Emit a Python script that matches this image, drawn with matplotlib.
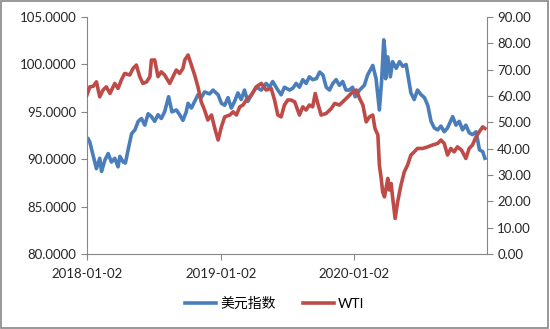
import pandas as pd
import matplotlib
matplotlib.use('Agg')
import matplotlib.pyplot as plt
import matplotlib.dates as mdates
import matplotlib.ticker as mticker
from matplotlib.patches import Rectangle

plt.rcParams['font.family'] = ['Lato', 'Noto Sans CJK SC', 'DejaVu Sans']

# 美元指数 (left axis)
usd_dates = ['2018-01-02', '2018-01-05', '2018-01-10', '2018-01-19', '2018-01-28', '2018-02-06',
             '2018-02-11', '2018-02-20', '2018-03-01', '2018-03-10', '2018-03-19', '2018-03-28',
             '2018-04-02', '2018-04-11', '2018-04-17', '2018-04-25', '2018-05-04', '2018-05-13',
             '2018-05-22', '2018-05-31', '2018-06-09', '2018-06-18', '2018-06-27', '2018-07-06',
             '2018-07-15', '2018-07-24', '2018-08-02', '2018-08-13', '2018-08-22', '2018-09-03',
             '2018-09-12', '2018-09-21', '2018-09-30', '2018-10-05', '2018-10-14', '2018-11-01',
             '2018-11-10', '2018-11-19', '2018-12-03', '2018-12-12', '2018-12-26', '2019-01-04',
             '2019-01-13', '2019-01-22', '2019-01-31', '2019-02-09', '2019-02-18', '2019-02-27',
             '2019-03-08', '2019-03-17', '2019-03-27', '2019-04-09', '2019-04-23', '2019-05-06',
             '2019-05-15', '2019-05-24', '2019-06-07', '2019-06-16', '2019-06-25', '2019-07-09',
             '2019-07-18', '2019-07-27', '2019-08-05', '2019-08-14', '2019-08-23', '2019-09-01',
             '2019-09-10', '2019-09-20', '2019-09-29', '2019-10-08', '2019-10-17', '2019-10-26',
             '2019-11-04', '2019-11-13', '2019-11-22', '2019-12-01', '2019-12-10', '2019-12-19',
             '2019-12-28', '2020-01-04', '2020-01-16', '2020-01-29', '2020-02-07', '2020-02-21',
             '2020-03-01', '2020-03-10', '2020-03-16', '2020-03-22', '2020-03-25', '2020-03-27',
             '2020-04-02', '2020-04-09', '2020-04-15', '2020-04-25', '2020-05-04', '2020-05-13',
             '2020-05-22', '2020-05-26', '2020-06-04', '2020-06-13', '2020-06-22', '2020-07-02',
             '2020-07-11', '2020-07-20', '2020-07-29', '2020-08-07', '2020-08-16', '2020-08-25',
             '2020-09-03', '2020-09-12', '2020-09-26', '2020-10-05', '2020-10-14', '2020-10-23',
             '2020-11-01', '2020-11-10', '2020-11-19', '2020-11-29', '2020-12-08', '2020-12-17',
             '2020-12-23']
usd_vals = [91.9, 92.2, 91.8, 90.4, 89.0, 90.1,
            88.7, 89.9, 90.6, 89.7, 90.1, 89.2,
            90.3, 89.7, 89.6, 91.1, 92.7, 93.1,
            94.0, 94.3, 93.6, 94.8, 94.5, 94.0,
            94.7, 94.3, 95.0, 96.6, 95.0, 95.2,
            94.7, 94.1, 95.0, 95.9, 95.4, 96.8,
            96.5, 97.1, 96.9, 97.3, 96.8, 95.9,
            95.7, 96.5, 95.4, 96.1, 97.0, 96.3,
            97.3, 96.1, 96.8, 97.6, 97.3, 98.0,
            97.6, 98.2, 97.3, 96.8, 97.6, 97.3,
            97.5, 98.0, 97.6, 98.4, 98.0, 98.7,
            98.4, 98.5, 99.2, 98.9, 97.6, 97.3,
            98.0, 98.4, 97.8, 98.2, 97.3, 97.3,
            97.6, 96.6, 97.3, 97.8, 98.9, 99.9,
            98.5, 95.2, 98.2, 102.6, 101.5, 98.5,
            100.8, 98.7, 100.3, 99.6, 100.3, 99.8,
            100.0, 99.1, 97.0, 96.3, 97.3, 96.8,
            96.5, 95.7, 94.0, 93.3, 93.1, 93.5,
            92.9, 93.3, 94.5, 93.6, 94.0, 93.1,
            93.6, 92.8, 92.6, 92.9, 91.0, 90.8,
            90.1]

# WTI (right axis)
wti_dates = ['2018-01-02', '2018-01-10', '2018-01-19', '2018-01-28', '2018-02-06', '2018-02-15',
             '2018-02-24', '2018-03-06', '2018-03-19', '2018-03-28', '2018-04-06', '2018-04-15',
             '2018-04-29', '2018-05-08', '2018-05-17', '2018-05-26', '2018-06-04', '2018-06-14',
             '2018-06-23', '2018-06-27', '2018-07-06', '2018-07-15', '2018-07-24', '2018-08-02',
             '2018-08-16', '2018-08-25', '2018-09-03', '2018-09-12', '2018-09-21', '2018-09-26',
             '2018-10-05', '2018-10-14', '2018-10-23', '2018-11-01', '2018-11-10', '2018-11-19',
             '2018-11-28', '2018-12-08', '2018-12-17', '2018-12-26', '2019-01-04', '2019-01-13',
             '2019-01-27', '2019-02-05', '2019-02-14', '2019-02-23', '2019-03-04', '2019-03-13',
             '2019-03-27', '2019-04-09', '2019-04-23', '2019-05-06', '2019-05-20', '2019-05-29',
             '2019-06-07', '2019-06-16', '2019-06-25', '2019-07-04', '2019-07-13', '2019-07-23',
             '2019-08-05', '2019-08-14', '2019-08-23', '2019-09-01', '2019-09-10', '2019-09-17',
             '2019-09-24', '2019-10-03', '2019-10-17', '2019-10-31', '2019-11-09', '2019-11-22',
             '2019-12-01', '2019-12-15', '2019-12-28', '2020-01-07', '2020-01-16', '2020-01-25',
             '2020-02-03', '2020-02-12', '2020-02-21', '2020-02-27', '2020-03-06', '2020-03-10',
             '2020-03-15', '2020-03-19', '2020-03-24', '2020-04-02', '2020-04-06', '2020-04-11',
             '2020-04-15', '2020-04-22', '2020-04-29', '2020-05-08', '2020-05-17', '2020-05-26',
             '2020-06-04', '2020-06-13', '2020-06-22', '2020-07-06', '2020-07-20', '2020-08-02',
             '2020-08-16', '2020-08-25', '2020-09-03', '2020-09-12', '2020-09-21', '2020-09-30',
             '2020-10-09', '2020-10-20', '2020-11-01', '2020-11-10', '2020-11-19', '2020-11-29',
             '2020-12-08', '2020-12-17', '2020-12-23']
wti_vals = [60.4, 63.5, 63.7, 65.4, 59.7, 62.3,
            63.5, 61.0, 64.8, 62.9, 66.1, 68.6,
            68.0, 70.5, 71.8, 67.4, 64.8, 65.4,
            67.4, 73.7, 73.7, 67.4, 69.2, 68.0,
            64.8, 67.4, 69.9, 68.6, 70.5, 73.7,
            75.6, 71.8, 68.0, 63.5, 57.8, 54.7,
            50.9, 52.8, 47.7, 43.3, 48.3, 52.1,
            52.8, 54.0, 52.8, 55.9, 56.6, 58.5,
            60.4, 63.5, 64.8, 62.3, 62.9, 58.5,
            52.8, 52.1, 56.6, 58.5, 58.5, 57.8,
            52.8, 55.9, 54.7, 56.6, 55.9, 61.0,
            57.2, 52.8, 53.4, 55.3, 57.2, 56.6,
            57.8, 59.7, 61.6, 62.3, 59.1, 56.6,
            50.2, 52.1, 52.8, 47.7, 45.2, 33.8,
            28.7, 23.6, 21.7, 28.7, 24.3, 26.8,
            21.7, 13.5, 19.9, 26.2, 31.2, 33.8,
            37.6, 38.8, 40.1, 40.1, 40.7, 41.4,
            42.0, 43.3, 42.0, 37.6, 40.1, 38.8,
            40.7, 39.5, 36.3, 40.1, 41.4, 44.6,
            46.5, 48.3, 47.7]

x_ticks = ['2018-01-02', '2019-01-02', '2020-01-02']

usd_x = pd.to_datetime(usd_dates)
wti_x = pd.to_datetime(wti_dates)

fig = plt.figure(figsize=(5.5, 3.29), dpi=100)
ax = fig.add_axes([0.158, 0.228, 0.727, 0.720])
ax2 = ax.twinx()

l1, = ax.plot(usd_x, usd_vals, color='#4A7EBB', lw=2.6, label='美元指数')
l2, = ax2.plot(wti_x, wti_vals, color='#BE4B48', lw=2.6, label='WTI')

ax.set_ylim(80, 105)
ax.set_yticks([80, 85, 90, 95, 100, 105])
ax.yaxis.set_major_formatter(mticker.FormatStrFormatter('%.4f'))
ax2.set_ylim(0, 90)
ax2.set_yticks(range(0, 91, 10))
ax2.yaxis.set_major_formatter(mticker.FormatStrFormatter('%.2f'))

ax.set_xlim(pd.Timestamp('2018-01-02'), pd.Timestamp('2020-12-28'))
ax.set_xticks(pd.to_datetime(x_ticks))
ax.xaxis.set_major_formatter(mdates.DateFormatter('%Y-%m-%d'))

for a in (ax, ax2):
    for s in a.spines.values():
        s.set_color('#868686')
        s.set_linewidth(0.8)
    a.spines['top'].set_visible(False)
    a.tick_params(colors='#868686', labelcolor='#262626', labelsize=9.5, length=4, width=0.8)
ax.spines['right'].set_visible(False)
ax2.spines['left'].set_visible(False)
ax2.spines['bottom'].set_visible(False)
ax.tick_params(axis='x', pad=6)

fig.legend(handles=[l1, l2], loc='center', bbox_to_anchor=(0.5, 0.079), ncol=2,
           frameon=False, fontsize=10, handlelength=2.2, columnspacing=2.0, handletextpad=0.3)

fig.patches.append(Rectangle((0.002, 0.003), 0.995, 0.994, transform=fig.transFigure,
                             fill=False, edgecolor='#868686', lw=1.2))

fig.savefig('out.png', dpi=100)
